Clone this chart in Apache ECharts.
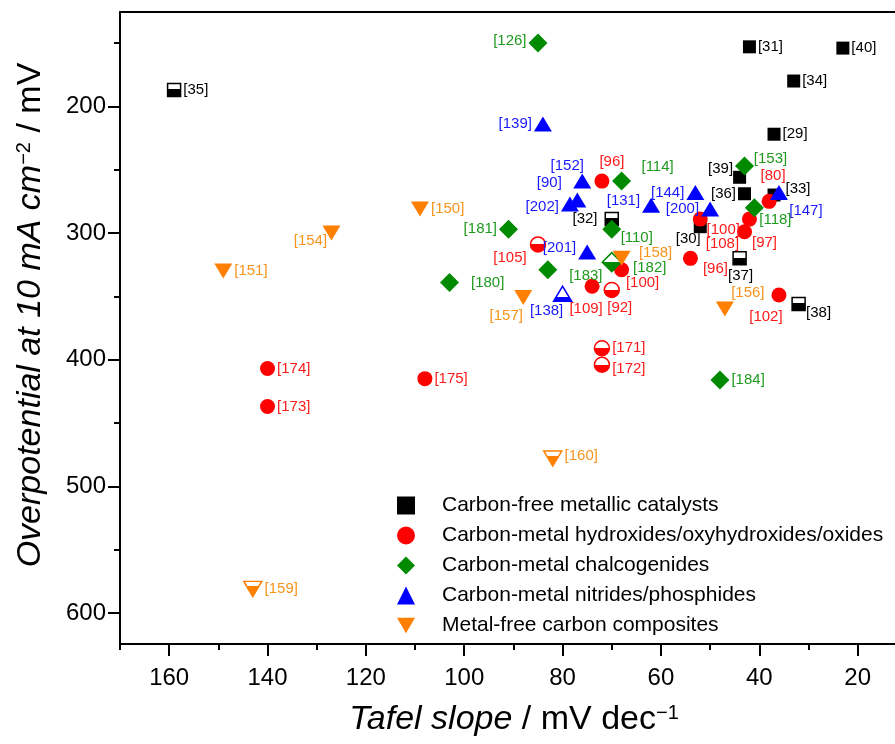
<!DOCTYPE html>
<html>
<head>
<meta charset="utf-8">
<script src="https://cdn.jsdelivr.net/npm/echarts@6/dist/echarts.min.js"></script>
<style>
  html, body { margin: 0; padding: 0; background: #fff; }
  #chart { width: 895px; height: 744px; }
</style>
</head>
<body>
<div id="chart"></div>
<script>
// Carbon-free metallic catalysts
const blackRefs  = ['31', '40', '34', '29', '39', '36', '33', '32', '30', '37', '38', '35'];
const blackTafel = [42, 23, 33, 37, 44, 43, 37, 70, 52, 44, 32, 159];
const blackEta   = [153, 154, 180, 222, 256, 269, 270, 289, 295, 320, 356, 187];

// Carbon-metal hydroxides/oxyhydroxides/oxides
const redRefs  = ['96', '80', '100', '108', '97', '105', '96', '100', '109', '92', '102', '171', '172', '174', '173', '175'];
const redTafel = [72, 38, 52, 42, 43, 85, 54, 68, 74, 70, 36, 72, 72, 140, 140, 108];
const redEta   = [259, 275, 289, 289, 299, 309, 320, 329, 342, 345, 349, 391, 404, 407, 437, 415];

// Carbon-metal chalcogenides
const greenRefs  = ['126', '114', '153', '118', '110', '181', '180', '183', '182', '184'];
const greenTafel = [85, 68, 43, 41, 70, 91, 103, 83, 70, 48];
const greenEta   = [150, 259, 247, 280, 297, 297, 339, 329, 323, 416];

// Carbon-metal nitrides/phosphides
const blueRefs  = ['139', '152', '90', '202', '131', '144', '200', '147', '201', '138'];
const blueTafel = [84, 76, 77, 78.5, 62, 53, 50, 36, 75, 80];
const blueEta   = [214, 259, 274, 277, 278, 268, 281, 268, 315, 348];

// Metal-free carbon composites
const orangeRefs  = ['150', '154', '151', '158', '157', '156', '160', '159'];
const orangeTafel = [109, 127, 149, 68, 88, 47, 82, 143];
const orangeEta   = [281, 300, 330, 320, 351, 360, 478, 581];

// half-filled markers (open top half)
const halfFilled = {
  black: ['32', '37', '38', '35'],
  red: ['105', '92', '171', '172'],
  green: ['182'],
  blue: ['138'],
  orange: ['160', '159']
};

const xMajor = [160, 140, 120, 100, 80, 60, 40, 20];
const xMinor = [170, 150, 130, 110, 90, 70, 50, 30];
const yMajor = [200, 300, 400, 500, 600];
const yMinor = [150, 250, 350, 450, 550];

// label placement: 'r' / 'l' / ['r'|'l', dy, dist] / [dx, dy] from marker centre
const blackPlace  = ['r', 'r', 'r', 'r', [-19, -8], 'l', [24, -6], ['l', 0, 7], [-12, 12], [1, 18], [20, 9], 'r'];
const redPlace    = [[10, -19], [4, -25], [23, 11], [-27, 25], [20, 11], [-28, 13], [25, 11], [21, 13], [-6, 23], [8, 18], [-13, 22], 'r', ['r', 4], 'r', 'r', 'r'];
const greenPlace  = [['l', -2], [36, -14], [26, -7], [21, 12], [25, 9], 'l', ['r', 0, 12], [38, 6], [38, 6], 'r'];
const bluePlace   = ['l', [-15, -15], [-28, -17], ['l', 3], ['l', -4], 'l', 'l', [27, 18], ['l', -4], [-16, 17]];
const orangePlace = ['r', [-21, 8], 'r', [34, -5], [-17, 18], [23, -16], ['r', -3], 'r'];

const FONT = 'Liberation Sans, Arial, sans-serif';
const DOWN_TRI = 'path://M0,0L20,0L10,17.3Z';

function labelFor(p) {
  if (p === 'r') return { position: 'right', distance: 2 };
  if (p === 'l') return { position: 'left', distance: 2 };
  if (typeof p[0] === 'string') {
    return { position: p[0] === 'r' ? 'right' : 'left', distance: p[2] || 2, offset: [0, p[1]] };
  }
  return { position: 'inside', offset: p };
}

function halfFill(color, stop) {
  return new echarts.graphic.LinearGradient(0, 0, 0, 1, [
    { offset: 0, color: '#fff' },
    { offset: stop, color: '#fff' },
    { offset: stop, color: color },
    { offset: 1, color: color }
  ]);
}

function buildData(refs, tafel, eta, place, half, color, stop) {
  return refs.map(function (r, i) {
    const item = { value: [tafel[i], eta[i]], name: r, label: labelFor(place[i]) };
    if (half.indexOf(r) >= 0) {
      item.itemStyle = { color: halfFill(color, stop), borderColor: color, borderWidth: 1.5 };
    }
    return item;
  });
}

function makeSeries(name, symbol, size, color, labelColor, data) {
  return {
    name: name,
    type: 'scatter',
    symbol: symbol,
    symbolSize: size,
    itemStyle: { color: color, opacity: 1 },
    label: {
      show: true,
      color: labelColor,
      fontSize: 15,
      fontFamily: FONT,
      formatter: function (p) { return '[' + p.name + ']'; }
    },
    emphasis: { disabled: true },
    data: data
  };
}

const chart = echarts.init(document.getElementById('chart'), null, { renderer: 'canvas' });

const axisBase = {
  type: 'value',
  inverse: true,
  splitLine: { show: false }
};

chart.setOption({
  animation: false,
  backgroundColor: '#fff',
  textStyle: { fontFamily: FONT },
  grid: { left: 120, right: 0, top: 12, bottom: 100 },
  xAxis: [
    Object.assign({}, axisBase, {
      min: 12.4, max: 170, position: 'bottom',
      axisLine: { lineStyle: { color: '#000', width: 2 } },
      axisTick: { customValues: xMajor, length: 12, lineStyle: { color: '#000', width: 2 } },
      axisLabel: { customValues: xMajor, fontSize: 24, color: '#000', margin: 22, fontFamily: FONT }
    }),
    Object.assign({}, axisBase, {
      min: 12.4, max: 170, position: 'bottom',
      axisLine: { show: false },
      axisTick: { customValues: xMinor, length: 6, lineStyle: { color: '#000', width: 2 } },
      axisLabel: { show: false }
    }),
    Object.assign({}, axisBase, {
      min: 12.4, max: 170, position: 'top',
      axisLine: { lineStyle: { color: '#000', width: 2 } },
      axisTick: { show: false },
      axisLabel: { show: false }
    })
  ],
  yAxis: [
    Object.assign({}, axisBase, {
      min: 125.5, max: 624.5, position: 'left',
      axisLine: { lineStyle: { color: '#000', width: 2 } },
      axisTick: { customValues: yMajor, length: 12, lineStyle: { color: '#000', width: 2 } },
      axisLabel: { customValues: yMajor, fontSize: 24, color: '#000', margin: 14, fontFamily: FONT }
    }),
    Object.assign({}, axisBase, {
      min: 125.5, max: 624.5, position: 'left',
      axisLine: { show: false },
      axisTick: { customValues: yMinor, length: 6, lineStyle: { color: '#000', width: 2 } },
      axisLabel: { show: false }
    })
  ],
  legend: {
    orient: 'vertical',
    left: 392,
    top: 490,
    itemWidth: 18,
    itemHeight: 18,
    itemGap: 9,
    textStyle: { fontSize: 21, color: '#000', fontFamily: FONT, padding: [0, 0, 0, 22] },
    data: [
      'Carbon-free metallic catalysts',
      'Carbon-metal hydroxides/oxyhydroxides/oxides',
      'Carbon-metal chalcogenides',
      'Carbon-metal nitrides/phosphides',
      'Metal-free carbon composites'
    ]
  },
  graphic: [
    {
      type: 'text',
      x: 31, y: 315,
      rotation: Math.PI / 2,
      style: {
        text: '{i|Overpotential at 10 mA cm}{s|−2}{n| / mV}',
        align: 'center',
        verticalAlign: 'middle',
        fill: '#000',
        rich: {
          i: { fontSize: 34, fontStyle: 'italic', fontFamily: FONT, fill: '#000' },
          s: { fontSize: 20, fontFamily: FONT, verticalAlign: 'top', fill: '#000' },
          n: { fontSize: 34, fontFamily: FONT, fill: '#000' }
        }
      }
    },
    {
      type: 'text',
      x: 514, y: 720,
      style: {
        text: '{i|Tafel slope}{n| / mV dec}{s|−1}',
        align: 'center',
        verticalAlign: 'middle',
        fill: '#000',
        rich: {
          i: { fontSize: 34, fontStyle: 'italic', fontFamily: FONT, fill: '#000' },
          n: { fontSize: 34, fontFamily: FONT, fill: '#000' },
          s: { fontSize: 20, fontFamily: FONT, verticalAlign: 'top', fill: '#000' }
        }
      }
    }
  ],
  series: [
    makeSeries('Carbon-free metallic catalysts', 'rect', 13, '#000000', '#000000',
      buildData(blackRefs, blackTafel, blackEta, blackPlace, halfFilled.black, '#000000', 0.45)),
    makeSeries('Carbon-metal hydroxides/oxyhydroxides/oxides', 'circle', 15, '#ff0000', '#ff1a1a',
      buildData(redRefs, redTafel, redEta, redPlace, halfFilled.red, '#ff0000', 0.5)),
    makeSeries('Carbon-metal chalcogenides', 'diamond', 19, '#008a00', '#1f9a1f',
      buildData(greenRefs, greenTafel, greenEta, greenPlace, halfFilled.green, '#008a00', 0.5)),
    makeSeries('Carbon-metal nitrides/phosphides', 'triangle', [18, 15], '#0000ff', '#1a1aff',
      buildData(blueRefs, blueTafel, blueEta, bluePlace, halfFilled.blue, '#0000ff', 0.72)),
    makeSeries('Metal-free carbon composites', DOWN_TRI, [18, 15], '#ff8000', '#f7941d',
      buildData(orangeRefs, orangeTafel, orangeEta, orangePlace, halfFilled.orange, '#ff8000', 0.33))
  ]
});
</script>
</body>
</html>
